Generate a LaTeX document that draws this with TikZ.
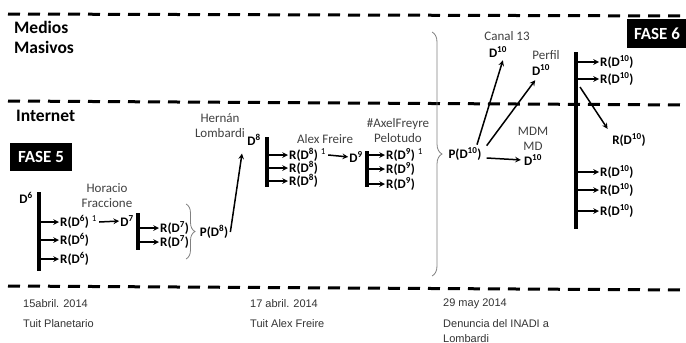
\documentclass[tikz,border=0pt]{standalone}
\usepackage{fontspec}
\setmainfont{Carlito}
\newfontfamily\datefont{Liberation Sans}
\usepackage{tikz}
\usetikzlibrary{arrows, positioning, decorations.pathreplacing}

\begin{document}
\begin{tikzpicture}[x=1pt, y=-1pt,
        lbl/.style={inner sep=0pt, font=\bfseries\fontsize{13}{15}\selectfont},
        who/.style={inner sep=0pt, align=center, text=black!75, font=\fontsize{13}{15}\selectfont},
        zone/.style={inner sep=0pt, align=left, anchor=west, font=\bfseries\fontsize{17.5}{20}\selectfont},
        fase/.style={fill=black, text=white, inner sep=0pt, font=\bfseries\fontsize{17}{17}\selectfont},
        date/.style={inner sep=0pt, align=left, anchor=west, text=black!80, font=\datefont\fontsize{11}{15}\selectfont},
        sep/.style={line width=3pt, dash pattern=on 12pt off 8pt},
        bar/.style={line width=4pt},
        arrow/.style={->, >=stealth, line width=1.5pt, shorten >=1pt},
        brk/.style={decorate, decoration={brace, amplitude=#1}, draw=black!50, line width=0.8pt}]

    \useasboundingbox (0,0) rectangle (686,343);

    % zones
    \draw [sep] (8,14) -- (686,16);
    \draw [sep] (8,101) -- (686,105);
    \draw [sep] (8,286) -- (686,290);
    \node (medios) [zone] at (14,37) {Medios\\Masivos};
    \node (internet) [zone] at (16,116) {Internet};
    \node (fase5) [fase, minimum width=62pt, minimum height=28pt] at (41,157) {FASE 5};
    \node (fase6) [fase, minimum width=60pt, minimum height=29pt] at (657,33.5) {FASE 6};

    % D6
    \node (d6) [lbl] at (26,198) {D\textsuperscript{6}};
    \coordinate (b6t) at (39,192);
    \coordinate (b6b) at (39,271);
    \draw [bar] (b6t) -- (b6b);
    \node (r6a) [lbl, anchor=west] at (60,222) {R(D\textsuperscript{6}) \textsuperscript{\mdseries 1}};
    \node (r6b) [lbl, anchor=west] at (60,240) {R(D\textsuperscript{6})};
    \node (r6c) [lbl, anchor=west] at (60,259) {R(D\textsuperscript{6})};
    \draw [arrow] (b6t |- r6a) -- (r6a.west);
    \draw [arrow] (b6t |- r6b) -- (r6b.west);
    \draw [arrow] (b6t |- r6c) -- (r6c.west);

    % D7
    \node (hor) [who] at (107,196) {Horacio\\Fraccione};
    \node (d7) [lbl] at (127,221) {D\textsuperscript{7}};
    \draw [arrow] ([xshift=2pt]r6a.east) -- (d7.west);
    \coordinate (b7t) at (138,213);
    \coordinate (b7b) at (138,250);
    \draw [bar] (b7t) -- (b7b);
    \node (r7a) [lbl, anchor=west] at (160,228) {R(D\textsuperscript{7})};
    \node (r7b) [lbl, anchor=west] at (160,242) {R(D\textsuperscript{7})};
    \draw [arrow] (b7t |- r7a) -- (r7a.west);
    \draw [arrow] (b7t |- r7b) -- (r7b.west);
    \draw [brk=9pt] (186,204) -- (186,259);
    \node (p8) [lbl] at (214,232) {P(D\textsuperscript{8})};

    % D8
    \node (her) [who] at (220,126) {Hernán\\Lombardi};
    \node (d8) [lbl] at (254,140) {D\textsuperscript{8}};
    \draw [arrow] ([xshift=2pt]p8.east) -- ([xshift=-5pt, yshift=-7pt]d8.south west);
    \coordinate (b8t) at (267,137);
    \coordinate (b8b) at (267,187);
    \draw [bar] (b8t) -- (b8b);
    \node (r8a) [lbl, anchor=west] at (289,155) {R(D\textsuperscript{8}) \textsuperscript{\mdseries 1}};
    \node (r8b) [lbl, anchor=west] at (289,168) {R(D\textsuperscript{8})};
    \node (r8c) [lbl, anchor=west] at (289,181) {R(D\textsuperscript{8})};
    \draw [arrow] (b8t |- r8a) -- (r8a.west);
    \draw [arrow] (b8t |- r8b) -- (r8b.west);
    \draw [arrow] (b8t |- r8c) -- (r8c.west);

    % D9
    \node (alex) [who] at (325,139) {Alex Freire};
    \node (d9) [lbl] at (356,157) {D\textsuperscript{9}};
    \draw [arrow] ([xshift=2pt]r8a.east) -- (d9.west);
    \node (axel) [who] at (398,131) {\#AxelFreyre\\Pelotudo};
    \coordinate (b9t) at (367,151);
    \coordinate (b9b) at (367,187);
    \draw [bar] (b9t) -- (b9b);
    \node (r9a) [lbl, anchor=west] at (386,155) {R(D\textsuperscript{9}) \textsuperscript{\mdseries 1}};
    \node (r9b) [lbl, anchor=west] at (386,169) {R(D\textsuperscript{9})};
    \node (r9c) [lbl, anchor=west] at (386,184) {R(D\textsuperscript{9})};
    \draw [arrow] (b9t |- r9a) -- (r9a.west);
    \draw [arrow] (b9t |- r9b) -- (r9b.west);
    \draw [arrow] (b9t |- r9c) -- (r9c.west);
    \draw [brk=10pt] (432,32) -- (432,276);

    % D10
    \node (p10) [lbl] at (465,154) {P(D\textsuperscript{10})};
    \node (canal) [who] at (507,36) {Canal 13};
    \node (c10) [lbl] at (498,52) {D\textsuperscript{10}};
    \node (perfil) [who] at (546,55) {Perfil};
    \node (pf10) [lbl] at (541,70) {D\textsuperscript{10}};
    \node (mdm) [who] at (533,139) {MDM\\MD};
    \node (md10) [lbl] at (533,160) {D\textsuperscript{10}};
    \draw [arrow] ([xshift=12pt, yshift=3pt]p10.north) -- ([xshift=-4pt, yshift=-2pt]c10.south east);
    \draw [arrow] ([xshift=5pt, yshift=2pt]p10.north east) -- ([xshift=4pt, yshift=-4pt]pf10.south west);
    \draw [arrow] ([xshift=5pt, yshift=-4pt]p10.east) -- ([xshift=-2pt]md10.west);

    \coordinate (b10t) at (576,52);
    \coordinate (b10b) at (576,229);
    \coordinate (k10) at (580,87);
    \draw [bar] (b10t) -- (b10b);
    \node (r10a) [lbl, anchor=west] at (600,62) {R(D\textsuperscript{10})};
    \node (r10b) [lbl, anchor=west] at (600,79) {R(D\textsuperscript{10})};
    \node (r10c) [lbl] at (629,140) {R(D\textsuperscript{10})};
    \node (r10d) [lbl, anchor=west] at (600,172) {R(D\textsuperscript{10})};
    \node (r10e) [lbl, anchor=west] at (600,190) {R(D\textsuperscript{10})};
    \node (r10f) [lbl, anchor=west] at (600,211) {R(D\textsuperscript{10})};
    \draw [arrow] ([xshift=2pt]b10t |- r10a) -- (r10a.west);
    \draw [arrow] ([xshift=2pt]b10t |- r10b) -- (r10b.west);
    \draw [arrow] (k10) -- ([xshift=-4pt, yshift=4pt]r10c.north west);
    \draw [arrow] ([xshift=2pt]b10t |- r10d) -- (r10d.west);
    \draw [arrow] ([xshift=2pt]b10t |- r10e) -- (r10e.west);
    \draw [arrow] ([xshift=2pt]b10t |- r10f) -- (r10f.west);

    % dates
    \node (t1) [date] at (23,304) {15abril. 2014};
    \node (e1) [date] at (23,324) {Tuit Planetario};
    \node (t2) [date] at (250,304) {17 abril. 2014};
    \node (e2) [date] at (250,324) {Tuit Alex Freire};
    \node (t3) [date] at (443,304) {29 may 2014};
    \node (e3) [date, anchor=north west] at (443,319) {Denuncia del INADI a\\Lombardi};
\end{tikzpicture}
\end{document}
